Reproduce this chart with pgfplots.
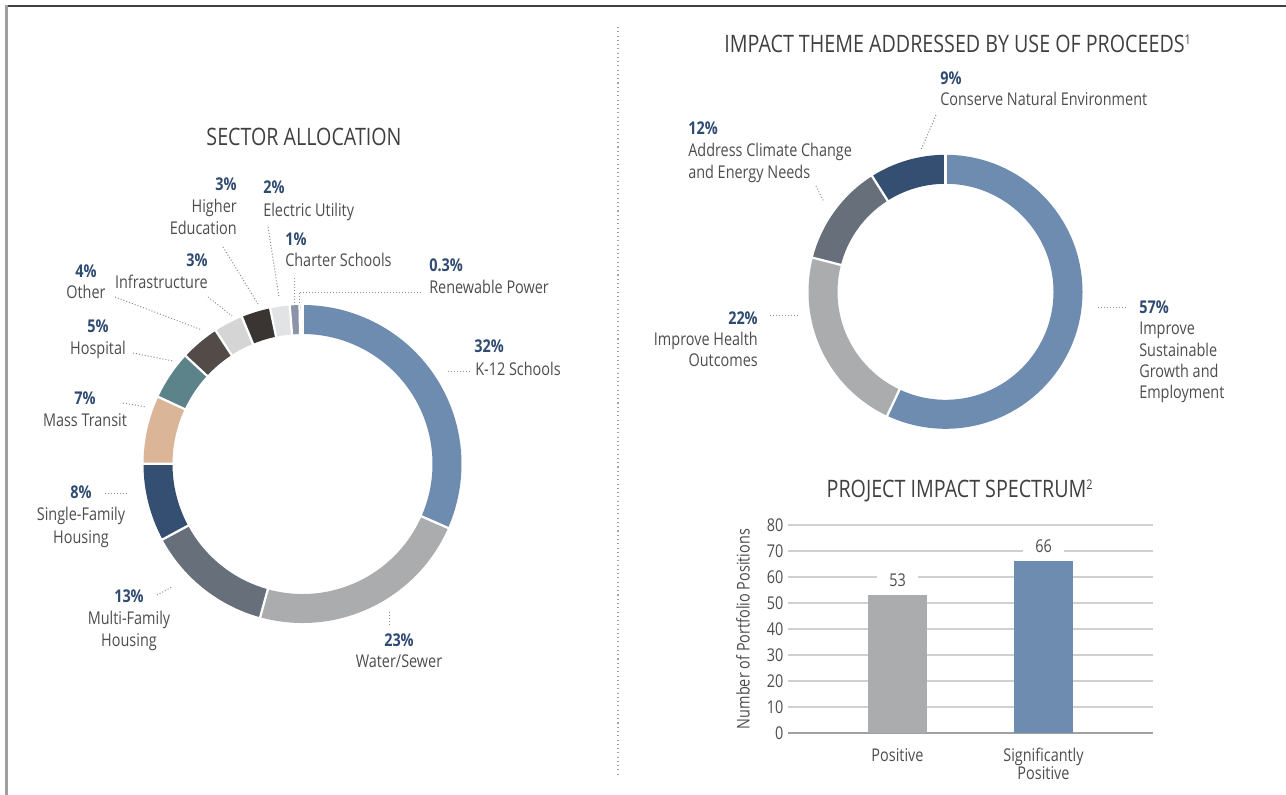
\documentclass[border=0pt]{standalone}
\usepackage{pgfplots}
\usepackage{pgfplotstable}
\pgfplotsset{compat=1.18}
\usepackage{fontspec}
\setmainfont{Open Sans}[FakeStretch=0.82]

\definecolor{cK}{HTML}{6E8BB0}
\definecolor{cW}{HTML}{ABACAE}
\definecolor{cMF}{HTML}{676F7A}
\definecolor{cSF}{HTML}{344F72}
\definecolor{cMT}{HTML}{DBB597}
\definecolor{cHo}{HTML}{5C8389}
\definecolor{cOt}{HTML}{534B47}
\definecolor{cIn}{HTML}{D5D5D5}
\definecolor{cHE}{HTML}{3A3532}
\definecolor{cEU}{HTML}{E2E3E5}
\definecolor{cCS}{HTML}{8A93A8}
\definecolor{cRP}{HTML}{9A9FAB}
\definecolor{pctcol}{HTML}{2F4B72}
\definecolor{txtcol}{HTML}{4D4D4D}
\definecolor{titcol}{HTML}{404040}
\definecolor{leadcol}{HTML}{8C8C8C}
\definecolor{cGrid}{HTML}{D0D0D0}
\definecolor{cBase}{HTML}{A0A0A0}

\newcommand{\lblfont}{\fontsize{13.2}{16}\selectfont}
\newcommand{\titfont}{\fontsize{18}{21}\selectfont}

\pgfplotstableread{
pct color
32 cK
23 cW
13 cMF
8 cSF
7 cMT
5 cHo
4 cOt
3 cIn
3 cHE
2 cEU
1 cCS
0.3 cRP
}\sectordata

\pgfplotstableread{
pct color
57 cK
22 cW
12 cMF
9 cSF
}\themedata

% #1 table, #2 mid radius (axis units), #3 mid radius (pt), #4 ring width (pt)
\newcommand{\donut}[4]{%
 \pgfplotsextra{%
  \pgfplotstablegetrowsof{#1}%
  \pgfmathtruncatemacro\nlast{\pgfplotsretval-1}%
  \xdef\dtot{0}%
  \foreach \i in {0,...,\nlast}{%
    \pgfplotstablegetelem{\i}{pct}\of#1%
    \pgfmathsetmacro\tmpv{\dtot+\pgfplotsretval}\xdef\dtot{\tmpv}}%
  \xdef\dcum{0}%
  \foreach \i in {0,...,\nlast}{%
    \pgfplotstablegetelem{\i}{pct}\of#1\let\segp\pgfplotsretval
    \pgfplotstablegetelem{\i}{color}\of#1\let\segc\pgfplotsretval
    \pgfmathsetmacro\aA{90-360*(\dcum/\dtot)}%
    \pgfmathsetmacro\aB{90-360*((\dcum+\segp)/\dtot)}%
    \draw[line width=#4, color=\segc] (axis cs:{#2*cos(\aA)},{#2*sin(\aA)}) arc[start angle=\aA, end angle=\aB, radius=#3];
    \pgfmathsetmacro\tmpv{\dcum+\segp}\xdef\dcum{\tmpv}}%
  \xdef\dcum{0}%
  \foreach \i in {0,...,\nlast}{%
    \pgfplotstablegetelem{\i}{pct}\of#1\let\segp\pgfplotsretval
    \pgfmathsetmacro\aA{90-360*(\dcum/\dtot)}%
    \draw[white, line width=1.7pt] (axis cs:{0.7*cos(\aA)},{0.7*sin(\aA)}) -- (axis cs:{1.04*cos(\aA)},{1.04*sin(\aA)});
    \pgfmathsetmacro\tmpv{\dcum+\segp}\xdef\dcum{\tmpv}}%
 }}

\begin{document}
\begin{tikzpicture}
\useasboundingbox (0,0) rectangle (964.5pt,-596.25pt);

% left donut
\begin{axis}[at={(226.875pt,-348pt)}, anchor=center, hide axis, scale only axis,
  width=238.5pt, height=238.5pt, xmin=-1, xmax=1, ymin=-1, ymax=1, clip=false]
  \donut{\sectordata}{0.9088}{108.375pt}{21.75pt}
\end{axis}

% right donut
\begin{axis}[at={(709.125pt,-218.85pt)}, anchor=center, hide axis, scale only axis,
  width=205.5pt, height=205.5pt, xmin=-1, xmax=1, ymin=-1, ymax=1, clip=false]
  \donut{\themedata}{0.8942}{91.875pt}{21.75pt}
\end{axis}

% bar chart
\begin{axis}[at={(591pt,-549.75pt)}, anchor=south west, scale only axis,
  width=273.75pt, height=156pt,
  ybar, bar width=44.25pt,
  xmin=-0.75, xmax=1.75, ymin=0, ymax=80,
  ytick={0,10,...,80}, xtick={0,1},
  xticklabels={Positive,{Significantly\\Positive}},
  axis lines*=left,
  y axis line style={draw=none},
  x axis line style={draw=cBase, line width=1.5pt, -},
  major tick length=0pt,
  ymajorgrids, grid style={draw=cGrid, line width=1.5pt},
  ticklabel style={font=\lblfont, text=txtcol},
  xticklabel style={align=center, yshift=-8pt, font=\fontsize{13.2}{13.5}\selectfont},
  /pgf/number format/assume math mode=true,
  ylabel={Number of Portfolio Positions},
  every axis y label/.style={at={(axis description cs:-0.1233,0.5)}, rotate=90, anchor=center, font=\lblfont, text=txtcol},
  nodes near coords,
  every node near coord/.append style={fill=white, text=txtcol, font=\lblfont, inner xsep=9pt, inner ysep=1pt, yshift=5pt},
  clip=false]
  \addplot[fill=cW, draw=none, bar shift=0pt] coordinates {(0,53)};
  \addplot[fill=cK, draw=none, bar shift=0pt] coordinates {(1,66)};
\end{axis}

\begin{scope}[x=0.75pt, y=-0.75pt,
  pct/.style={font=\lblfont\bfseries, text=pctcol, inner sep=0pt, text height=0.75em, text depth=0.05em},
  lbl/.style={font=\lblfont, text=txtcol, inner sep=0pt, text height=0.75em, text depth=0.05em},
  tit/.style={font=\titfont, text=titcol, inner sep=0pt},
  lead/.style={draw=leadcol, line width=0.75pt, dash pattern=on 0.75pt off 1.5pt}]
  % frame
  \draw[color=titcol, line width=1.1pt] (6,6) -- (1286,6);
  \draw[color=cBase, line width=1.9pt] (6.5,5.5) -- (6.5,795);
  \draw[color=cBase, line width=0.9pt, dash pattern=on 0.8pt off 2.4pt] (618,27) -- (618,775);

  % titles
  \node[tit] at (304,137) {SECTOR ALLOCATION};
  \node[tit] at (958,44) {IMPACT THEME ADDRESSED BY USE OF PROCEEDS\textsuperscript{\fontsize{10}{10}\selectfont 1}};
  \node[tit] at (960,491) {PROJECT IMPACT SPECTRUM\textsuperscript{\fontsize{10}{10}\selectfont 2}};

  % left donut labels
  \node[pct, anchor=west] at (474,348) {32\%};
  \node[lbl, anchor=west] at (475,371) {K-12 Schools};
  \draw[lead] (448,371) -- (470,371);

  \node[pct] at (399,642) {23\%};
  \node[lbl] at (399,663) {Water/Sewer};
  \draw[lead] (389,612) -- (389,627);

  \node[pct] at (129,598) {13\%};
  \node[lbl] at (129,620) {Multi-Family};
  \node[lbl] at (129,642) {Housing};
  \draw[lead] (157,595) -- (172,587);

  \node[pct] at (81,494) {8\%};
  \node[lbl] at (81,516) {Single-Family};
  \node[lbl] at (81,539) {Housing};
  \draw[lead] (105,493) -- (129,493);

  \node[pct] at (85,400) {7\%};
  \node[lbl] at (85,422) {Mass Transit};
  \draw[lead] (123,403) -- (146,407);

  \node[pct] at (98,328) {5\%};
  \node[lbl] at (98,350) {Hospital};
  \draw[lead] (133,353) -- (173,361);

  \node[pct] at (86,273) {4\%};
  \node[lbl] at (86,294) {Other};
  \draw[lead] (115,297) -- (202,330);

  \node[pct, anchor=east] at (208,262) {3\%};
  \node[lbl, anchor=east] at (208,284) {Infrastructure};
  \draw[lead] (208,297) -- (232,316);

  \node[pct, anchor=east] at (237,186) {3\%};
  \node[lbl, anchor=east] at (237,208) {Higher};
  \node[lbl, anchor=east] at (237,230) {Education};
  \draw[lead] (223,247) -- (258,304);

  \node[pct, anchor=west] at (263,189) {2\%};
  \node[lbl, anchor=west] at (263,212) {Electric Utility};
  \draw[lead] (268,227) -- (279,297);

  \node[pct, anchor=west] at (285,241) {1\%};
  \node[lbl, anchor=west] at (285,262) {Charter Schools};
  \draw[lead] (294,278) -- (294,303);

  \node[pct, anchor=west] at (429,267) {0.3\%};
  \node[lbl, anchor=west] at (429,289) {Renewable Power};
  \draw[lead] (299,303) -- (299,292) -- (422,292);

  % right donut labels
  \node[pct, anchor=west] at (940,80) {9\%};
  \node[lbl, anchor=west] at (940,101) {Conserve Natural Environment};
  \draw[lead] (936,115) -- (921,150);

  \node[pct, anchor=west] at (688,130) {12\%};
  \node[lbl, anchor=west] at (688,152) {Address Climate Change};
  \node[lbl, anchor=west] at (688,174) {and Energy Needs};
  \draw[lead] (816,186) -- (824,202);

  \node[pct, anchor=east] at (758,320) {22\%};
  \node[lbl, anchor=east] at (758,341) {Improve Health};
  \node[lbl, anchor=east] at (758,362) {Outcomes};
  \draw[lead] (770,315) -- (799,315);

  \node[pct, anchor=west] at (1139,309) {57\%};
  \node[lbl, anchor=west] at (1139,330) {Improve};
  \node[lbl, anchor=west] at (1139,352) {Sustainable};
  \node[lbl, anchor=west] at (1139,373) {Growth and};
  \node[lbl, anchor=west] at (1139,394) {Employment};
  \draw[lead] (1098,307) -- (1128,307);
\end{scope}
\end{tikzpicture}
\end{document}
